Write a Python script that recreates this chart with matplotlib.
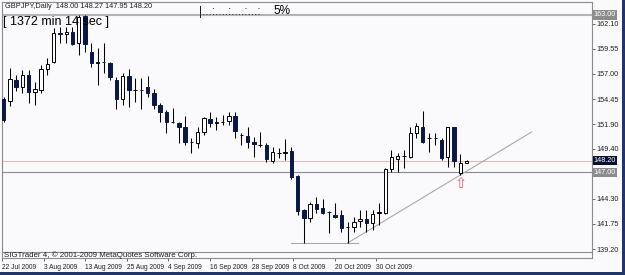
import matplotlib
matplotlib.use('Agg')
import numpy as np
import matplotlib.pyplot as plt
from matplotlib.patches import Rectangle

# GBPJPY daily candles, oldest first
opens = [154.46, 154.26, 156.39, 155.68, 156.90, 155.17, 155.38, 157.51, 158.22, 161.17,
         161.07, 161.28, 160.16, 162.90, 159.24, 158.12, 158.22, 158.12, 156.39, 154.46,
         156.80, 155.38, 155.40, 155.68, 155.07, 153.85, 153.14, 152.12, 152.02, 151.61,
         150.09, 149.99, 151.11, 152.43, 152.02, 152.08, 152.22, 152.73, 150.80, 150.70,
         150.09, 149.78, 149.78, 148.16, 148.97, 149.01, 149.17, 146.63, 143.17, 142.36,
         143.78, 143.38, 142.97, 142.66, 142.66, 141.44, 141.44, 142.05, 142.26, 141.85,
         142.87, 142.87, 147.34, 148.36, 148.66, 148.56, 151.00, 151.61, 150.49, 150.53,
         150.29, 148.56, 151.61, 146.94, 148.00]
highs = [154.67, 157.61, 156.90, 157.41, 157.41, 156.19, 157.92, 158.63, 161.68, 161.78,
         161.78, 161.78, 162.95, 163.00, 160.16, 159.65, 160.16, 158.22, 156.70, 157.11,
         157.51, 156.60, 156.60, 156.80, 155.48, 154.06, 153.34, 153.55, 152.12, 152.73,
         150.49, 151.61, 152.63, 153.14, 152.63, 152.83, 153.14, 153.14, 151.00, 151.61,
         150.60, 151.11, 149.99, 149.58, 149.48, 150.39, 149.58, 146.73, 143.27, 143.99,
         144.50, 144.29, 143.02, 143.89, 143.17, 141.95, 142.46, 143.17, 143.17, 143.17,
         143.89, 147.44, 149.27, 148.97, 149.27, 151.61, 152.02, 153.24, 151.00, 151.00,
         150.49, 151.65, 151.65, 148.87, 148.27]
lows = [152.12, 153.75, 155.28, 155.07, 154.06, 153.85, 155.07, 156.90, 158.12, 160.16,
        160.16, 159.95, 158.94, 159.24, 157.72, 155.89, 157.11, 156.39, 153.45, 153.85,
        153.65, 154.16, 153.45, 154.67, 153.45, 152.12, 151.00, 152.02, 149.99, 149.78,
        148.97, 149.48, 150.80, 151.61, 151.31, 151.82, 151.82, 150.49, 149.78, 149.48,
        148.56, 149.58, 148.05, 147.95, 148.46, 148.26, 146.33, 142.66, 139.82, 141.95,
        142.87, 142.77, 140.83, 142.36, 140.93, 139.82, 140.93, 141.44, 140.93, 141.14,
        141.65, 142.80, 147.04, 147.04, 147.44, 148.46, 150.49, 149.99, 149.07, 149.78,
        148.26, 147.55, 147.55, 146.73, 147.95]
closes = [152.33, 156.50, 155.68, 156.90, 155.17, 155.48, 157.51, 158.02, 161.17, 161.07,
          161.28, 160.05, 162.80, 160.05, 158.12, 158.22, 158.17, 156.70, 154.46, 156.80,
          155.38, 155.40, 155.38, 155.07, 153.85, 153.14, 152.12, 152.16, 151.61, 150.09,
          150.05, 151.11, 152.53, 152.02, 152.08, 152.12, 152.73, 151.21, 150.84, 150.09,
          149.88, 149.82, 148.36, 149.07, 149.01, 149.07, 146.53, 143.07, 142.36, 143.78,
          143.27, 142.87, 142.93, 142.46, 141.34, 141.48, 141.95, 142.26, 141.85, 142.77,
          142.93, 147.34, 148.56, 148.66, 148.70, 151.00, 151.72, 150.09, 150.53, 150.49,
          148.46, 151.61, 148.16, 147.95, 148.20]

# time scale labels sit where the screenshot shows them (not on every 8th bar)
date_pos = [-0.27, 6.38, 13.03, 19.68, 26.33, 32.98, 39.64, 46.29, 52.94, 59.6]
date_labels = ['22 Jul 2009', '3 Aug 2009', '13 Aug 2009', '25 Aug 2009', '4 Sep 2009',
               '16 Sep 2009', '28 Sep 2009', '8 Oct 2009', '20 Oct 2009', '30 Oct 2009']
price_ticks = [162.10, 159.55, 157.00, 154.45, 151.90, 149.40, 144.30, 141.75, 139.20]

# drawn objects
hline_top = 163.00
hline_support = 147.00
bid = 148.20
trend_x = [55, 84.4]
trend_y = [139.82, 151.10]
support_x = [45.9, 56.6]
support_y = [139.82, 139.82]
arrow_bar, arrow_price = 73, 145.9

BG = '#fafafc'
NAVY = '#0a1848'
FONT = ['Liberation Sans', 'DejaVu Sans']

fig = plt.figure(figsize=(6.25, 2.75), dpi=100, facecolor=BG)
ax = fig.add_axes([2 / 625, 17 / 275, 590 / 625, 256 / 275], facecolor=BG)

x = np.arange(len(opens))
o = np.array(opens); c = np.array(closes)
h = np.array(highs); l = np.array(lows)
up = c >= o

ax.vlines(x, l, h, color='black', lw=0.75, zorder=2)
bottoms = np.minimum(o, c)
heights = np.maximum(np.abs(c - o), 0.03)
ax.bar(x[up], heights[up], bottom=bottoms[up], width=0.55, color='white',
       edgecolor='black', lw=0.7, zorder=3)
ax.bar(x[~up], heights[~up], bottom=bottoms[~up], width=0.55, color=NAVY,
       edgecolor=NAVY, lw=0.7, zorder=3)

# horizontal lines and trend lines
ax.axhline(hline_top, color='#b4b4b4', lw=1.5, zorder=1)
ax.axhline(hline_support, color='#8a8a8a', lw=0.8, zorder=1)
ax.axhline(bid, color='#e2bcbc', lw=0.8, zorder=1)
ax.plot(trend_x, trend_y, color='#a8a4a0', lw=0.75, zorder=1)
ax.plot(support_x, support_y, color='#a8a4a0', lw=0.75, zorder=1)
ax.text(arrow_bar, arrow_price, '\u21e7', color='#f25a6e', fontsize=10.5,
        ha='center', va='center', family='DejaVu Sans', zorder=4)

ax.set_xlim(-0.11, 94.06)
ax.set_ylim(138.29, 164.32)

for s in ax.spines.values():
    s.set_color('#8c8c8c')
    s.set_linewidth(0.8)

ax.yaxis.tick_right()
ax.set_yticks(price_ticks)
ax.set_yticklabels([f'{p:.2f}' for p in price_ticks], fontsize=5.2, family=FONT,
                   color='#202020')
ax.tick_params(axis='y', length=2.2, width=0.6, color='#505050', pad=1.2)

ax.set_xticks(date_pos)
ax.set_xticklabels(date_labels, fontsize=4.8, family=FONT, color='#202020', ha='left')
ax.tick_params(axis='x', length=2.2, width=0.6, color='#505050', pad=2.4)
for lab in ax.get_xticklabels():
    lab.set_x(lab.get_position()[0])

# price label boxes on the right
for val, fc in [(hline_top, '#8c8c8c'), (bid, '#0a1030'), (hline_support, '#8c8c8c')]:
    ax.annotate(f'{val:.2f}', xy=(1, val), xycoords=('axes fraction', 'data'),
                xytext=(1.3, 0), textcoords='offset points', va='center', ha='left',
                fontsize=5.2, family=FONT, color='white', annotation_clip=False,
                bbox=dict(boxstyle='square,pad=0.18', fc=fc, ec='none'))

# copyright strip at the bottom of the chart
ax.add_patch(Rectangle((0, 0), 1, 6.3 / 256, transform=ax.transAxes, fc=BG,
                       ec='#8c8c8c', lw=0.8, zorder=5))
ax.text(2 / 590, 3.2 / 256, 'SIGTrader 4, \u00a9 2001-2009 MetaQuotes Software Corp.',
        transform=ax.transAxes, fontsize=5.7, family=FONT, color='#202020',
        va='center', ha='left', zorder=6)

# texts on top of the chart
fig.text(5 / 625, 1 - 7 / 275, 'GBPJPY,Daily  148.00 148.27 147.95 148.20',
         fontsize=5.3, family=FONT, color='#202020', va='center', ha='left')
fig.text(3 / 625, 1 - 22.5 / 275, '[ 1372 min 14 sec ]', fontsize=9, family=FONT,
         color='black', va='center', ha='left')
fig.text(199 / 625, 1 - 12 / 275, '|...:....:....:...:', fontsize=8.5, family=FONT,
         color='#202020', va='center', ha='left')
fig.text(273 / 625, 1 - 11.5 / 275, '5%', fontsize=8.5, family=FONT,
         color='black', va='center', ha='left')

# window border strips
fig.patches.append(Rectangle((0, 0), 1, 3 / 275, transform=fig.transFigure,
                             fc='#22356a', ec='none'))
fig.patches.append(Rectangle((622 / 625, 0), 3 / 625, 1, transform=fig.transFigure,
                             fc='#22356a', ec='none'))

fig.savefig('out.png', dpi=100, facecolor=BG)
